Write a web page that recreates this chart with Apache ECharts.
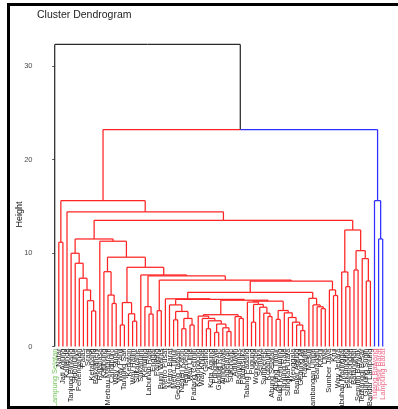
<!DOCTYPE html>
<html><head><meta charset="utf-8">
<script src="https://cdn.jsdelivr.net/npm/echarts@6/dist/echarts.min.js"></script>
<style>html,body{margin:0;padding:0;background:#fff}#c{width:398px;height:409px}</style>
</head><body><div id="c"></div>
<script>
// Leaf labels in display order (left to right)
const leafLabels = ["Lampung Selatan","Natar","Jati Agung","Kalianda","Tanjung Bintang","Sidomulyo","Penengahan","Palas","Sragi","Ketapang","Bakauheni","Rajabasa","Katibung","Merbau Mataram","Candipuro","Way Sulan","Way Panji","Tanjung Sari","Kedaton","Way Halim","Sukarame","Sukabumi","Kemiling","Labuhan Ratu","Enggal","Panjang","Bumi Waras","Metro Pusat","Metro Barat","Metro Timur","Gedong Tataan","Negeri Katon","Tegineneng","Way Lima","Padang Cermin","Kedondong","Way Khilau","Gisting","Kota Agung","Pringsewu","Gading Rejo","Ambarawa","Pagelaran","Sukoharjo","Adiluwih","Banyumas","Pardasuka","Talang Padang","Pugung","Wonosobo","Semaka","Sumberejo","Kotabumi","Abung Selatan","Abung Timur","Bukit Kemuning","Tanjung Raja","Sungkai Utara","Menggala","Banjar Agung","Gedung Aji","Rawajitu","Mesuji","Blambangan Umpu","Baradatu","Kasui","Liwa","Sumber Jaya","Krui","Way Jepara","Labuhan Maringgai","Sekampung","Pekalongan","Batanghari","Seputih Banyak","Terbanggi Besar","Gunung Sugih","Bandar Lampung","Tulang Bawang","Pesisir Barat","Lampung Barat"];
// first leaf index of each cluster (cluster 0, 1, 2)
const clusterStart = [0, 1, 78];
const branchColors = ['#2b2b2b', '#ff2424', '#2e2eff'];
const labelColors = ['#77c65f', '#222222', '#ee6e8c'];
// merges: leaf = number (display position), earlier merge = 'nK'
const mergeLeft  = [1, 9, 8, 7, 6, 5, 4, 14, 13, 12, 16, 19, 18, 'n10', 23, 22, 25, 29, 31, 33, 'n18', 'n17', 28, 39, 42, 41, 'n23', 37, 'n27', 36, 35, 45, 44, 'n30', 48, 52, 51, 50, 'n34', 47, 60, 59, 58, 57, 56, 54, 'n45', 'n39', 'n33', 'n22', 27, 65, 64, 63, 62, 'n50', 68, 67, 'n55', 'n16', 'n15', 21, 'n13', 'n9', 11, 'n6', 71, 70, 73, 76, 75, 'n68', 'n67', 'n65', 3, 'n0', 79, 78, 'n75', 0];
const mergeRight = [2, 10, 'n1', 'n2', 'n3', 'n4', 'n5', 15, 'n7', 'n8', 17, 20, 'n11', 'n12', 24, 'n14', 26, 30, 32, 34, 'n19', 'n20', 'n21', 40, 43, 'n24', 'n25', 38, 'n26', 'n28', 'n29', 46, 'n31', 'n32', 49, 53, 'n35', 'n36', 'n37', 'n38', 61, 'n40', 'n41', 'n42', 'n43', 55, 'n44', 'n46', 'n47', 'n48', 'n49', 66, 'n51', 'n52', 'n53', 'n54', 69, 'n56', 'n57', 'n58', 'n59', 'n60', 'n61', 'n62', 'n63', 'n64', 72, 'n66', 74, 77, 'n69', 'n70', 'n71', 'n72', 'n73', 'n74', 80, 'n76', 'n77', 'n78'];
const mergeHeight = [11.15, 3.8, 4.9, 6.04, 7.3, 8.9, 9.97, 4.6, 5.5, 8.0, 2.3, 2.7, 3.5, 4.7, 3.47, 4.26, 3.83, 2.85, 1.9, 2.3, 3.0, 3.75, 4.45, 1.5, 1.6, 2.0, 2.4, 1.9, 2.75, 3.0, 3.25, 3.0, 3.2, 3.4, 2.6, 3.2, 3.56, 4.2, 4.5, 4.75, 1.7, 2.3, 2.6, 3.1, 3.6, 2.9, 3.85, 4.85, 4.95, 5.03, 5.1, 4.05, 4.25, 4.45, 5.15, 5.8, 5.45, 6.05, 7.0, 7.1, 7.55, 7.65, 8.47, 9.55, 11.26, 11.5, 6.4, 7.97, 8.18, 7.0, 9.4, 10.25, 12.46, 13.5, 14.4, 15.6, 11.5, 15.6, 23.2, 32.3];
const yTicks = [0, 10, 20, 30];

function leafCluster(i) {
  let c = 0;
  for (let k = 0; k < clusterStart.length; k++) if (i >= clusterStart[k]) c = k;
  return c;
}
const nodeX = [], nodeC = [];
function ref(r) {
  if (typeof r === 'number') return {x: r, h: 0, c: leafCluster(r)};
  const k = +r.slice(1);
  return {x: nodeX[k], h: mergeHeight[k], c: nodeC[k]};
}
const segs = [];
for (let k = 0; k < mergeHeight.length; k++) {
  const L = ref(mergeLeft[k]), R = ref(mergeRight[k]), h = mergeHeight[k];
  const x = (L.x + R.x) / 2;
  nodeX[k] = x;
  nodeC[k] = (L.c === R.c) ? L.c : 0;
  segs.push([L.x, L.h, L.x, h, L.c]);
  segs.push([L.x, h, x, h, L.c]);
  segs.push([x, h, R.x, h, R.c]);
  segs.push([R.x, R.h, R.x, h, R.c]);
}

const chart = echarts.init(document.getElementById('c'), null, {renderer: 'canvas'});
const FONT = 'Liberation Sans, Arial, sans-serif';
chart.setOption({
  animation: false,
  backgroundColor: '#fff',
  title: {text: 'Cluster Dendrogram', left: 37, top: 10, padding: 0,
    textStyle: {fontSize: 10.5, fontWeight: 'normal', color: '#222', fontFamily: FONT}},
  grid: {left: 52.65, right: 13.25, top: 3.35, bottom: 62.5, containLabel: false, outerBoundsMode: 'none'},
  xAxis: [
    {type: 'value', min: -0.5, max: leafLabels.length - 0.5, show: false},
    {type: 'category', data: leafLabels, boundaryGap: true, position: 'bottom',
     axisLine: {show: false}, axisTick: {show: false},
     axisLabel: {interval: 0, rotate: 90, fontSize: 7.5, margin: 2, fontFamily: FONT,
       color: function (v, i) { return labelColors[leafCluster(i)]; }}}
  ],
  yAxis: {type: 'value', min: 0, max: 36.7, interval: 10, offset: 14.65,
    axisLine: {show: false}, splitLine: {show: false},
    axisTick: {show: true, length: 2.5, lineStyle: {color: '#555'}},
    axisLabel: {fontSize: 7.5, color: '#4d4d4d', margin: 5.5, fontFamily: FONT,
      formatter: function (v) { return yTicks.indexOf(v) >= 0 ? String(v) : ''; }}},
  graphic: [
    {type: 'text', x: 20, y: 214.5, rotation: Math.PI / 2, z: 50,
     style: {text: 'Height', fontSize: 9, fill: '#111', fontFamily: FONT, align: 'center', verticalAlign: 'middle'}},
    {type: 'rect', z: 100, shape: {x: 8.5, y: 4.5, width: 420, height: 403},
     style: {fill: 'none', stroke: '#000', lineWidth: 3}}
  ],
  series: [{
    type: 'custom', xAxisIndex: 0, yAxisIndex: 0, data: segs,
    encode: {x: [0, 2], y: [1, 3]},
    renderItem: function (params, api) {
      const p1 = api.coord([api.value(0), api.value(1)]);
      const p2 = api.coord([api.value(2), api.value(3)]);
      return {type: 'line', shape: {x1: p1[0], y1: p1[1], x2: p2[0], y2: p2[1]},
        style: {stroke: branchColors[api.value(4)], lineWidth: 1.25}};
    }
  }]
});
</script></body></html>
